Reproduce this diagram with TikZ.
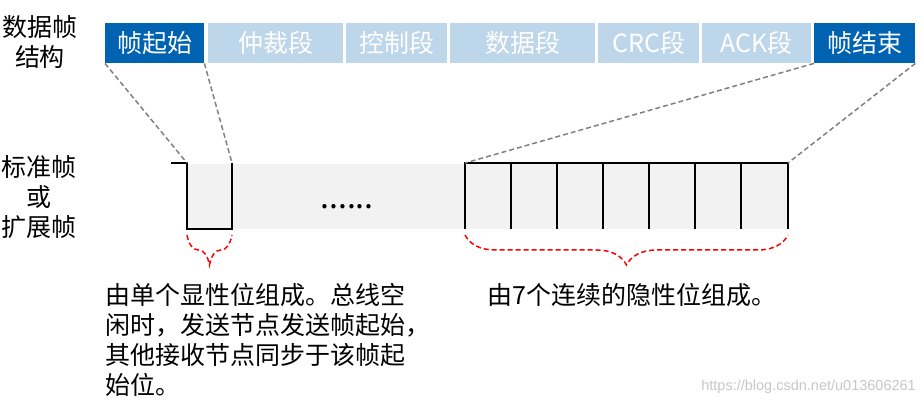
\documentclass[tikz,border=0pt]{standalone}
\usepackage{fontspec}
\setmainfont{Noto Sans CJK SC}
\newfontfamily\urlfont{Liberation Sans}
\usetikzlibrary{decorations.pathreplacing}

\definecolor{fielddark}{RGB}{0,99,177}
\definecolor{fieldlight}{RGB}{190,214,234}
\definecolor{bandgray}{RGB}{242,242,242}
\definecolor{guidegray}{RGB}{128,128,128}

\tikzset{
  field/.style={anchor=north west, minimum height=40pt, inner sep=0pt,
    text=white, font=\fontsize{25}{30}\selectfont},
  rowlabel/.style={align=center, inner sep=0pt, font=\fontsize{25}{30}\selectfont},
  note/.style={anchor=north west, align=left, inner sep=0pt,
    font=\fontsize{25}{30}\selectfont},
  wave/.style={line width=2pt},
  guide/.style={guidegray, line width=1.5pt, dash pattern=on 5pt off 3pt},
  bitbrace/.style={red, line width=1.5pt, dash pattern=on 5pt off 3pt,
    decorate, decoration={brace, mirror, amplitude=30pt}}
}

\begin{document}
\begin{tikzpicture}[x=1pt,y=1pt]
\useasboundingbox (0,0) rectangle (924,-406);

% frame fields
\node[field, fill=fielddark, minimum width=99pt] (fstart) at (105,-23) {帧起始};
\node[field, fill=fieldlight, minimum width=135pt] (arb) at (208,-23) {仲裁段};
\node[field, fill=fieldlight, minimum width=101pt] (ctrl) at (346,-23) {控制段};
\node[field, fill=fieldlight, minimum width=145pt] (data) at (450,-23) {数据段};
\node[field, fill=fieldlight, minimum width=101pt] (crc) at (598,-23) {CRC段};
\node[field, fill=fieldlight, minimum width=109pt] (ack) at (702,-23) {ACK段};
\node[field, fill=fielddark, minimum width=101pt] (fend) at (814,-23) {帧结束};

\node[rowlabel] (structlabel) at (40,-42) {数据帧\\结构};
\node[rowlabel] (kindlabel) at (39,-197) {标准帧\\或\\扩展帧};

% bit level
\fill[bandgray] (187,-164) rectangle (788,-229);
\coordinate (sofL) at (187,-163);
\coordinate (sofR) at (232,-163);
\coordinate (eofL) at (465,-163);
\coordinate (eofR) at (788,-163);

\draw[wave] (171,-163) -- (sofL) -- (187,-229) -- (232,-229) -- (sofR);
\draw[wave] (465,-229) -- (eofL) -- (eofR) -- (788,-229)
  (511,-163) -- (511,-229) (557,-163) -- (557,-229)
  (603,-163) -- (603,-229) (649,-163) -- (649,-229)
  (695,-163) -- (695,-229) (741,-163) -- (741,-229);

\node[font=\fontsize{32}{32}\selectfont] (dots) at (347,-207) {......};

\draw[guide] (fstart.south west) -- (sofL);
\draw[guide] (fstart.south east) -- (sofR);
\draw[guide] (fend.south west) -- (eofL);
\draw[guide] (fend.south east) -- (eofR);

\draw[bitbrace] (187,-235) -- (232,-235);
\draw[bitbrace] (465,-235) -- (788,-235);

\node[note] (sofnote) at (105,-283)
  {由单个显性位组成。总线空\\闲时，发送节点发送帧起始，\\其他接收节点同步于该帧起\\始位。};
\node[note] (eofnote) at (487,-283) {由7个连续的隐性位组成。};

\node[anchor=east, inner sep=0pt, text=black!22, font=\urlfont\fontsize{14.5}{16}\selectfont]
  (mark) at (916,-387) {https://blog.csdn.net/u013606261};
\end{tikzpicture}
\end{document}
